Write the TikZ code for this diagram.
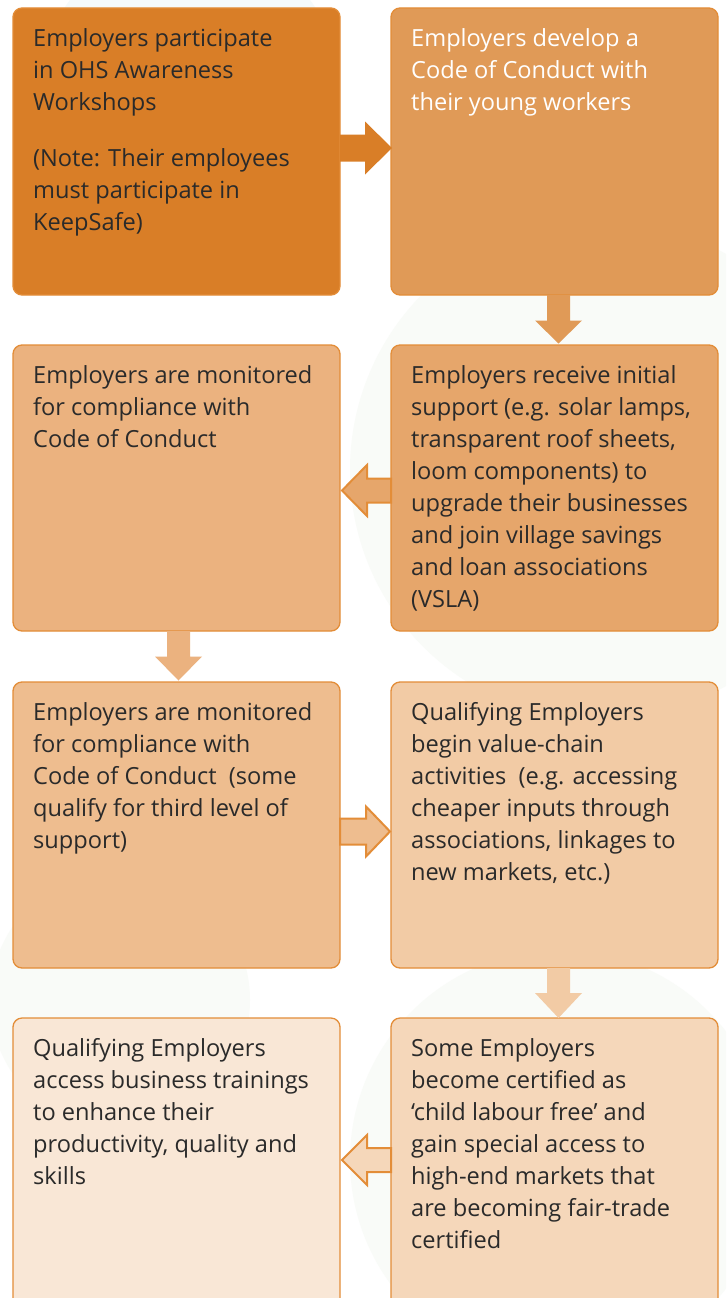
\documentclass[tikz,border=0pt]{standalone}
\usepackage{fontspec}
\setmainfont{Open Sans}
\usetikzlibrary{calc}

\definecolor{boxA}{HTML}{D97E27}
\definecolor{boxB}{HTML}{E09A57}
\definecolor{boxC}{HTML}{E6A66B}
\definecolor{boxD}{HTML}{EBB27F}
\definecolor{boxE}{HTML}{EEBD8F}
\definecolor{boxF}{HTML}{F2CBA5}
\definecolor{boxG}{HTML}{F5D7BA}
\definecolor{boxH}{HTML}{F9E7D6}
\definecolor{edge}{HTML}{E38D38}
\definecolor{ink}{HTML}{2A2A2A}
\definecolor{haze}{HTML}{F9FBF8}
\definecolor{hazeblue}{HTML}{F5FAFB}

% block arrow: #1 style, #2 start, #3 tip, #4 half shaft, #5 half head, #6 head length
\newcommand\flowarrow[6]{%
  \coordinate (hb) at ($(#3)!#6!(#2)$);
  \path[#1] ($(#2)!#4!90:(#3)$) -- ($(hb)!#4!90:(#3)$) -- ($(hb)!#5!90:(#3)$)
    -- (#3) -- ($(hb)!#5!-90:(#3)$) -- ($(hb)!#4!-90:(#3)$)
    -- ($(#2)!#4!-90:(#3)$) -- cycle;
}

\begin{document}
\begin{tikzpicture}[x=1pt,y=-1pt,
  box/.style={draw=edge, line width=1.3pt, rounded corners=9pt,
    minimum width=327pt, minimum height=287pt, anchor=north west,
    inner sep=0pt, outer sep=0pt},
  txt/.style={anchor=base west, inner sep=0pt, text=ink,
    font=\fontsize{23.6}{32}\selectfont},
  plain/.style={fill=#1},
  outlined/.style={fill=#1, draw=edge, line width=2pt, line join=miter}]

\useasboundingbox (0,0) rectangle (726,1298);
\clip (0,0) rectangle (726,1298);
\fill[white] (0,0) rectangle (726,1298);

% faint background shapes
\fill[hazeblue] (190,90) circle (150);
\fill[haze] (600,470) circle (250);
\fill[haze] (560,1160) circle (210);
\fill[haze] (120,1000) circle (130);

% boxes
\node[box, fill=boxA] (a) at (13,8) {};
\node[box, fill=boxB] (b) at (391,8) {};
\node[box, fill=boxC, minimum height=286pt] (c) at (391,345) {};
\node[box, fill=boxD, minimum height=286pt] (d) at (13,345) {};
\node[box, fill=boxE, minimum height=286pt] (e) at (13,682) {};
\node[box, fill=boxF, minimum height=286pt] (f) at (391,682) {};
\node[box, fill=boxG, minimum height=310pt] (g) at (391,1018) {};
\node[box, fill=boxH, minimum height=310pt] (h) at (13,1018) {};

% texts
\node[txt] (ta) at ($(a.north west)+(20,38.7)$) {\parbox[t]{310pt}{\raggedright
  Employers participate\\ in OHS Awareness\\ Workshops\\[24pt]
  (Note: Their employees\\ must participate in\\ KeepSafe)}};
\node[txt, text=white] (tb) at ($(b.north west)+(20,38.7)$) {\parbox[t]{310pt}{\raggedright
  Employers develop a\\ Code of Conduct with\\ their young workers}};
\node[txt] (tc) at ($(c.north west)+(20,38.7)$) {\parbox[t]{310pt}{\raggedright
  Employers receive initial\\ support (e.g. solar lamps,\\ transparent roof sheets,\\
  loom components) to\\ upgrade their businesses\\ and join village savings\\
  and loan associations\\ (VSLA)}};
\node[txt] (td) at ($(d.north west)+(20,38.7)$) {\parbox[t]{310pt}{\raggedright
  Employers are monitored\\ for compliance with\\ Code of Conduct}};
\node[txt] (te) at ($(e.north west)+(20,38.7)$) {\parbox[t]{310pt}{\raggedright
  Employers are monitored\\ for compliance with\\ Code of Conduct\ \ (some\\
  qualify for third level of\\ support)}};
\node[txt] (tf) at ($(f.north west)+(20,38.7)$) {\parbox[t]{310pt}{\raggedright
  Qualifying Employers\\ begin value-chain\\ activities\ \ (e.g. accessing\\
  cheaper inputs through\\ associations, linkages to\\ new markets, etc.)}};
\node[txt] (tg) at ($(g.north west)+(20,38.7)$) {\parbox[t]{310pt}{\raggedright
  Some Employers\\ become certified as\\ ‘child labour free’ and\\
  gain special access to\\ high-end markets that\\ are becoming fair-trade\\
  certified}};
\node[txt] (th) at ($(h.north west)+(20,38.7)$) {\parbox[t]{310pt}{\raggedright
  Qualifying Employers\\ access business trainings\\ to enhance their\\
  productivity, quality and\\ skills}};

% connectors
\coordinate (s1) at ($(a.east)+(0,-3.5)$);
\coordinate (t1) at ($(b.west)+(1,-3.5)$);
\flowarrow{plain=boxA}{s1}{t1}{13.5pt}{26.5pt}{27pt}

\coordinate (s2) at ($(b.south)+(4,0)$);
\coordinate (t2) at ($(c.north)+(4,-1.5)$);
\flowarrow{plain=boxB}{s2}{t2}{11.5pt}{23.5pt}{23pt}

\coordinate (s3) at ($(c.west)+(0,2.5)$);
\coordinate (t3) at ($(d.east)+(2,2.5)$);
\flowarrow{outlined=boxC}{s3}{t3}{12pt}{25.5pt}{25pt}

\coordinate (s4) at ($(d.south)+(2,0)$);
\coordinate (t4) at ($(e.north)+(2,-1.5)$);
\flowarrow{plain=boxD}{s4}{t4}{11.5pt}{23.5pt}{24pt}

\coordinate (s5) at ($(e.east)+(0,6.5)$);
\coordinate (t5) at ($(f.west)+(-1,6.5)$);
\flowarrow{outlined=boxE}{s5}{t5}{13pt}{25pt}{24pt}

\coordinate (s6) at ($(f.south)+(4,0)$);
\coordinate (t6) at ($(g.north)+(4,0)$);
\flowarrow{plain=boxF}{s6}{t6}{11.5pt}{23.5pt}{25pt}

\coordinate (s7) at ($(g.north west)+(0,142)$);
\coordinate (t7) at ($(h.north east)+(2,142)$);
\flowarrow{outlined=boxG}{s7}{t7}{12pt}{25pt}{25pt}

\end{tikzpicture}
\end{document}
